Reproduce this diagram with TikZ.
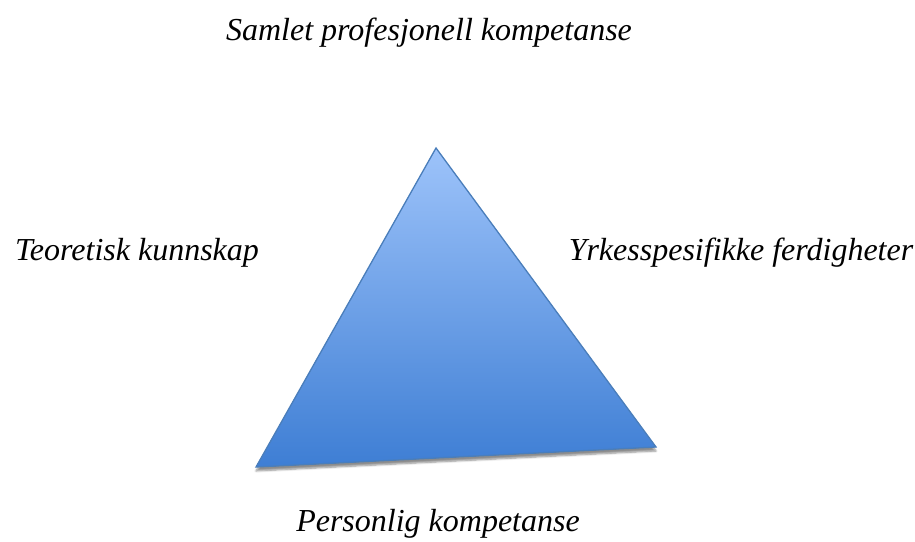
\documentclass[tikz,border=0pt]{standalone}
\usepackage{fontspec}
\setmainfont{Liberation Serif}
\usetikzlibrary{shadows.blur}
\definecolor{pyrtop}{HTML}{9DC3FA}
\definecolor{pyrbot}{HTML}{3E7ED4}
\definecolor{pyrline}{HTML}{4A7EBB}
\tikzset{
  lbl/.style   ={font=\fontsize{32}{38}\selectfont\itshape, inner sep=0pt},
  pyr/.style   ={top color=pyrtop, bottom color=pyrbot, draw=pyrline, line width=1.3pt,
                 line join=miter,
                 blur shadow={shadow xshift=0pt, shadow yshift=-4pt, shadow blur steps=6, shadow opacity=45}},
}

\begin{document}
\begin{tikzpicture}[x=1pt,y=-1pt]
  \useasboundingbox (0,0) rectangle (915,541);
  % corners of the triangle
  \coordinate (top) at (436,148);
  \coordinate (bl)  at (256,467);
  \coordinate (br)  at (656,447);
  \fill[pyr] (top) -- (br) -- (bl) -- cycle;

  % labels round it
  \node[lbl] (samlet) at (429,33)  {Samlet profesjonell kompetanse};
  \node[lbl] (teori)  at (137,253) {Teoretisk kunnskap};
  \node[lbl] (yrke)   at (741,253) {Yrkesspesifikke ferdigheter};
  \node[lbl] (person) at (438,524) {Personlig kompetanse};
\end{tikzpicture}
\end{document}
